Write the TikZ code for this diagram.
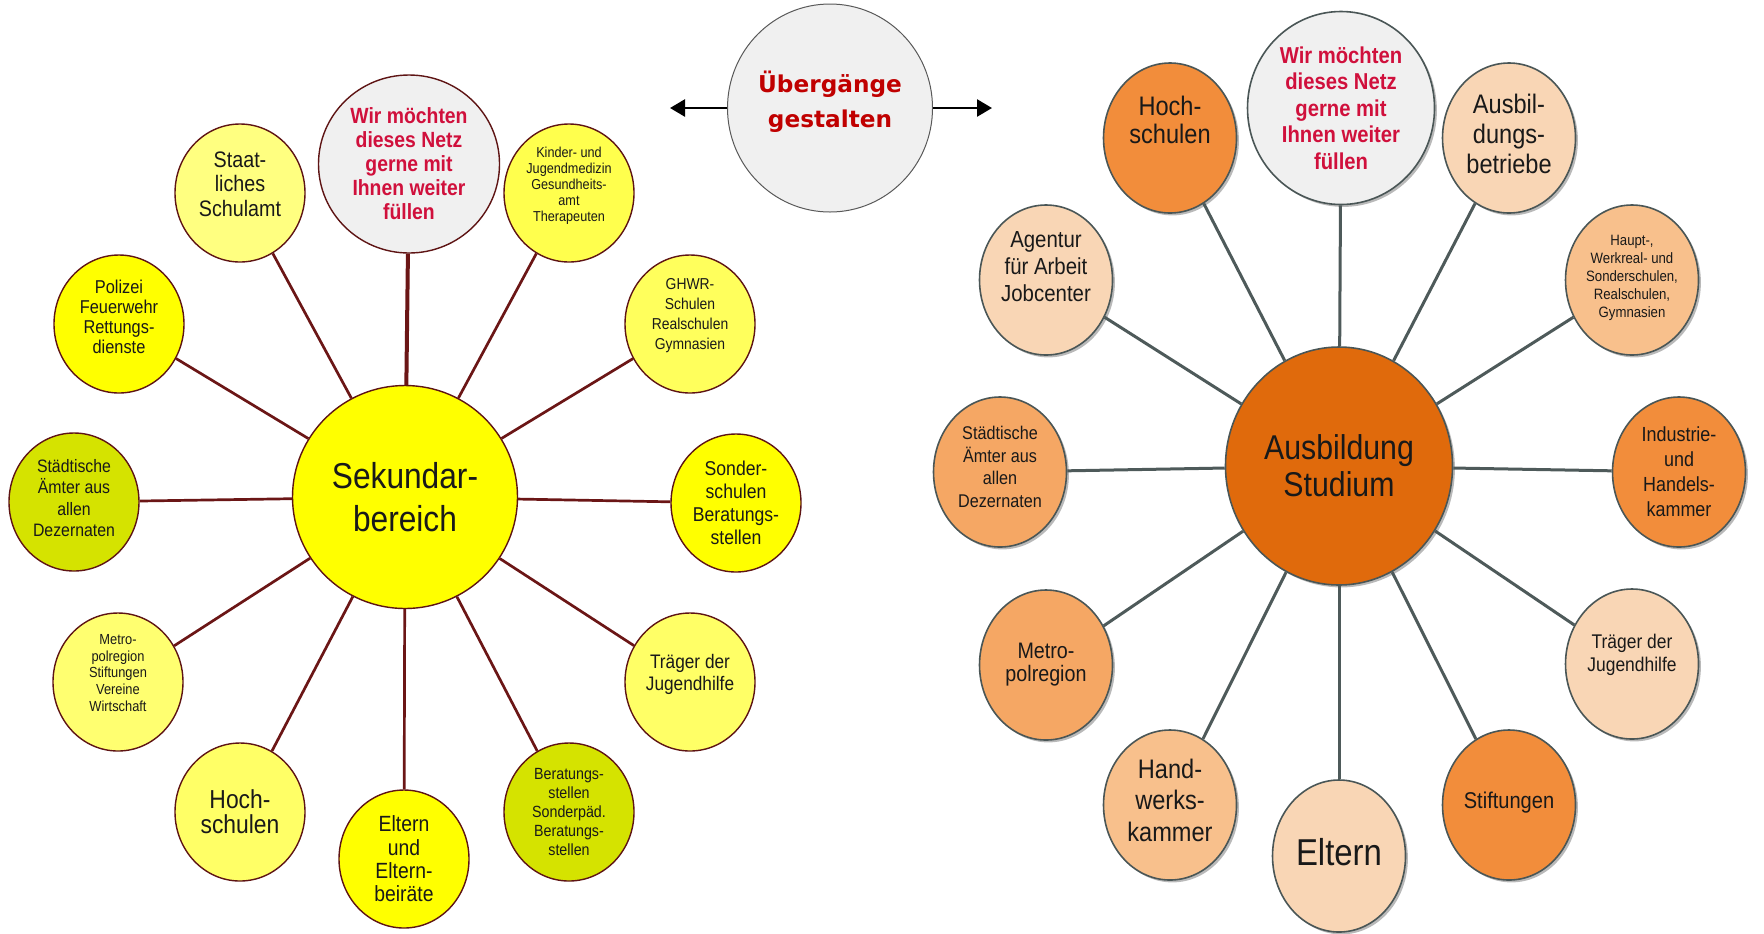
\documentclass[tikz,border=0pt]{standalone}
\usepackage{fontspec}
\setmainfont{Liberation Sans}[FakeStretch=0.88]
\newfontfamily\ufont{DejaVu Sans}
\usetikzlibrary{shapes.geometric,arrows.meta,shadows}
\newcommand\fsz[2]{\fontsize{#1}{#2}\selectfont}
\definecolor{yel}{HTML}{FFFF00}
\definecolor{yelS}{HTML}{FFFF80}
\definecolor{yelK}{HTML}{FFFF4D}
\definecolor{yelG}{HTML}{FFFF5C}
\definecolor{yelT}{HTML}{FFFF66}
\definecolor{yelH}{HTML}{FFFF66}
\definecolor{yelM}{HTML}{FFFF70}
\definecolor{lgreen}{HTML}{D5E300}
\definecolor{lgray}{HTML}{F0F0F0}
\definecolor{lbord}{HTML}{5E1414}
\definecolor{lline}{HTML}{6B1616}
\definecolor{rbord}{HTML}{4A5656}
\definecolor{rline}{HTML}{4E5A5A}
\definecolor{rhub}{HTML}{E06A0C}
\definecolor{ror}{HTML}{F28D3B}
\definecolor{rpeach}{HTML}{F9D6B5}
\definecolor{rlight}{HTML}{F8C08C}
\definecolor{rsand}{HTML}{F5A764}
\definecolor{wred}{HTML}{D0103C}
\definecolor{ured}{HTML}{C00000}
\begin{document}
\begin{tikzpicture}[x=0.5pt,y=-0.5pt,
  lsat/.style={ellipse, draw=lbord, line width=0.7pt, inner sep=0pt, minimum width=65pt, minimum height=69pt},
  rsat/.style={ellipse, draw=rbord, line width=0.8pt, inner sep=0pt, minimum width=66.5pt, minimum height=75pt,
    drop shadow={shadow xshift=1.2pt, shadow yshift=-1.2pt, fill=black!50, opacity=0.55}},
  txt/.style={align=center, inner sep=0pt, text=black!90},
  wtxt/.style={align=center, inner sep=0pt, text=wred},
  lcon/.style={draw=lline, line width=1.35pt},
  rcon/.style={draw=rline, line width=1.5pt},
  arr/.style={draw=black, line width=1.3pt, -{Triangle[length=7.5pt,width=8.5pt]}}]
\useasboundingbox (0,0) rectangle (1764,933);
% ---------- left network ----------
\node[lsat, fill=yel, minimum width=112.5pt, minimum height=111.5pt] (LH) at (405,497) {};
\node[lsat, fill=lgray, minimum width=90.5pt, minimum height=89pt] (LW) at (409,164) {};
\node[lsat, fill=yelS] (LS) at (240,193) {};
\node[lsat, fill=yel] (LP) at (119,324) {};
\node[lsat, fill=yelK] (LK) at (569,193) {};
\node[lsat, fill=yelG] (LG) at (690,324) {};
\node[lsat, fill=yel] (LSo) at (736,503) {};
\node[lsat, fill=yelT] (LT) at (690,682) {};
\node[lsat, fill=lgreen] (LB) at (569,812) {};
\node[lsat, fill=yel] (LE) at (404,859) {};
\node[lsat, fill=yelH] (LHo) at (240,812) {};
\node[lsat, fill=yelM] (LM) at (118,682) {};
\node[lsat, fill=lgreen] (LSt) at (74,502) {};
\draw[lcon, line width=2pt] (LH) -- (LW);
\foreach \n in {LS,LP,LK,LG,LSo,LT,LB,LE,LHo,LM,LSt} \draw[lcon] (LH) -- (\n);
\node[txt, font=\fsz{18}{21.5}] at (LH.center) {Sekundar-\\bereich};
\node[wtxt, font=\bfseries\fsz{11}{12}] at (LW.center) {Wir möchten\\dieses Netz\\gerne mit\\Ihnen weiter\\füllen};
\node[txt, font=\fsz{11.2}{12.25}] at ([yshift=4.5pt]LS.center) {Staat-\\liches\\Schulamt};
\node[txt, font=\fsz{9.3}{10}] at ([yshift=3.75pt]LP.center) {Polizei\\Feuerwehr\\Rettungs-\\dienste};
\node[txt, font=\fsz{7.2}{8}] at ([yshift=3.5pt]LK.center) {Kinder- und\\Jugendmedizin\\Gesundheits-\\amt\\Therapeuten};
\node[txt, font=\fsz{7.9}{10}] at ([yshift=4pt]LG.center) {GHWR-\\Schulen\\Realschulen\\Gymnasien};
\node[txt, font=\fsz{10}{11.5}] at (LSo.center) {Sonder-\\schulen\\Beratungs-\\stellen};
\node[txt, font=\fsz{9.8}{11}] at ([yshift=4pt]LT.center) {Träger der\\Jugendhilfe};
\node[txt, font=\fsz{8.1}{9.6}] at (LB.center) {Beratungs-\\stellen\\Sonderpäd.\\Beratungs-\\stellen};
\node[txt, font=\fsz{11}{11.7}] at (LE.center) {Eltern\\und\\Eltern-\\beiräte};
\node[txt, font=\fsz{13}{12.5}] at (LHo.center) {Hoch-\\schulen};
\node[txt, font=\fsz{7.3}{8.3}] at ([yshift=4.5pt]LM.center) {Metro-\\polregion\\Stiftungen\\Vereine\\Wirtschaft};
\node[txt, font=\fsz{9}{10.7}] at ([yshift=2pt]LSt.center) {Städtische\\Ämter aus\\allen\\Dezernaten};
% ---------- middle ----------
\node[ellipse, draw=black!65, line width=0.5pt, fill=lgray, inner sep=0pt, minimum width=102.5pt, minimum height=104pt] (U) at (830,108) {};
\coordinate (al) at (670,108);
\coordinate (ar) at (992,108);
\draw[arr] (U) -- (al);
\draw[arr] (U) -- (ar);
\node[align=center, inner sep=0pt, text=ured, font=\ufont\bfseries\fsz{11.6}{17.5}] at ([yshift=3pt]U.center) {Übergänge\\gestalten};
% ---------- right network ----------
\node[rsat, fill=rhub, minimum width=113.5pt, minimum height=119pt] (RH) at (1339,466) {};
\node[rsat, fill=lgray, minimum width=93.5pt, minimum height=96.5pt] (RW) at (1341,108) {};
\node[rsat, fill=ror] (RHo) at (1170,138) {};
\node[rsat, fill=rpeach] (RA) at (1509,138) {};
\node[rsat, fill=rpeach] (RAg) at (1046,280) {};
\node[rsat, fill=rlight] (RHa) at (1632,280) {};
\node[rsat, fill=ror] (RI) at (1679,472) {};
\node[rsat, fill=rsand] (RSt) at (1000,472) {};
\node[rsat, fill=rsand] (RM) at (1046,665) {};
\node[rsat, fill=rpeach] (RT) at (1632,664) {};
\node[rsat, fill=rlight] (RHw) at (1170,805) {};
\node[rsat, fill=rpeach, minimum height=76pt] (RE) at (1339,856) {};
\node[rsat, fill=ror] (RSf) at (1509,805) {};
\foreach \n in {RW,RHo,RA,RAg,RHa,RI,RSt,RM,RT,RHw,RE,RSf} \draw[rcon] (RH) -- (\n);
\node[txt, font=\fsz{17.2}{18.5}] at (RH.center) {Ausbildung\\Studium};
\node[wtxt, font=\bfseries\fsz{11.5}{13.2}] at (RW.center) {Wir möchten\\dieses Netz\\gerne mit\\Ihnen weiter\\füllen};
\node[txt, font=\fsz{13.4}{14}] at ([yshift=9pt]RHo.center) {Hoch-\\schulen};
\node[txt, font=\fsz{13.4}{15}] at ([yshift=2pt]RA.center) {Ausbil-\\dungs-\\betriebe};
\node[txt, font=\fsz{11.6}{13.5}] at ([yshift=6.5pt]RAg.center) {Agentur\\für Arbeit\\Jobcenter};
\node[txt, font=\fsz{7.5}{9}] at ([yshift=1pt]RHa.center) {Haupt-,\\Werkreal- und\\Sonderschulen,\\Realschulen,\\Gymnasien};
\node[txt, font=\fsz{10.2}{12.5}] at (RI.center) {Industrie-\\und\\Handels-\\kammer};
\node[txt, font=\fsz{9.2}{11.2}] at ([yshift=2.5pt]RSt.center) {Städtische\\Ämter aus\\allen\\Dezernaten};
\node[txt, font=\fsz{11.2}{11.5}] at (RM.center) {Metro-\\polregion};
\node[txt, font=\fsz{9.9}{11.5}] at ([yshift=4.5pt]RT.center) {Träger der\\Jugendhilfe};
\node[txt, font=\fsz{13.4}{15.7}] at ([yshift=2.5pt]RHw.center) {Hand-\\werks-\\kammer};
\node[txt, font=\fsz{18.7}{20}] at ([yshift=2pt]RE.center) {Eltern};
\node[txt, font=\fsz{11.4}{12}] at ([yshift=1pt]RSf.center) {Stiftungen};
\end{tikzpicture}
\end{document}
